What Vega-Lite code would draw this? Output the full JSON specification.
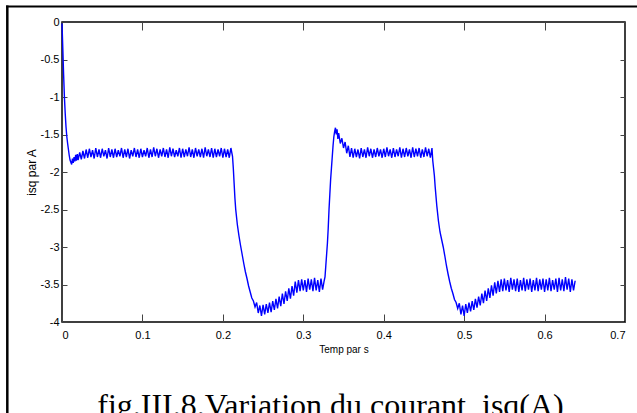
{
"$schema": "https://vega.github.io/schema/vega-lite/v6.json",
"width": 563,
"height": 300,
"autosize": {"type": "none"},
"padding": {"left": 62, "top": 22, "right": 12, "bottom": 91},
"background": "white",
"config": {
  "view": {"stroke": "black", "strokeWidth": 1.5},
  "locale": {"number": {"decimal": ".", "thousands": ",", "grouping": [3], "currency": ["$", ""], "minus": "-"}},
  "axis": {"domain": false, "grid": false, "labelColor": "black", "labelFont": "Liberation Sans", "labelFontSize": 11, "titleFont": "Liberation Sans", "titleFontWeight": "normal", "titleColor": "black", "tickColor": "#444444", "tickWidth": 1}
},
"title": {"text": "fig.III.8.Variation du courant\u00a0 isq(A)", "orient": "bottom", "font": "Liberation Serif", "fontSize": 32, "fontWeight": "normal", "color": "black", "anchor": "middle", "baseline": "alphabetic", "offset": -1, "dx": -13},
"datasets": {
"isq": [
{"t":0,"i":-0.02},{"t":0.001,"i":-0.35},{"t":0.002,"i":-0.7},{"t":0.003,"i":-1.0},{"t":0.004,"i":-1.22},{"t":0.005,"i":-1.4},{"t":0.006,"i":-1.53},{"t":0.007,"i":-1.62},{"t":0.008,"i":-1.7},{"t":0.009,"i":-1.78},{"t":0.010,"i":-1.84},{"t":0.011,"i":-1.87},{"t":0.012,"i":-1.9},{"t":0.013,"i":-1.82},{"t":0.014,"i":-1.88},{"t":0.015,"i":-1.8},{"t":0.016,"i":-1.86},{"t":0.017,"i":-1.77},{"t":0.018,"i":-1.85},{"t":0.019,"i":-1.76},{"t":0.020,"i":-1.84},{"t":0.022,"i":-1.74},{"t":0.024,"i":-1.83},{"t":0.026,"i":-1.72},{"t":0.028,"i":-1.82},
{"t":0.030,"i":-1.70},{"t":0.032,"i":-1.81},{"t":0.034,"i":-1.69},{"t":0.036,"i":-1.80},{"t":0.038,"i":-1.71},{"t":0.040,"i":-1.82},{"t":0.042,"i":-1.68},{"t":0.044,"i":-1.80},{"t":0.046,"i":-1.70},{"t":0.048,"i":-1.81},{"t":0.050,"i":-1.69},{"t":0.052,"i":-1.79},{"t":0.054,"i":-1.71},{"t":0.056,"i":-1.82},{"t":0.058,"i":-1.68},{"t":0.060,"i":-1.80},{"t":0.062,"i":-1.70},{"t":0.064,"i":-1.81},{"t":0.066,"i":-1.69},{"t":0.068,"i":-1.80},{"t":0.070,"i":-1.71},{"t":0.072,"i":-1.79},{"t":0.074,"i":-1.68},{"t":0.076,"i":-1.81},{"t":0.078,"i":-1.70},{"t":0.080,"i":-1.80},{"t":0.082,"i":-1.69},{"t":0.084,"i":-1.82},{"t":0.086,"i":-1.71},{"t":0.088,"i":-1.79},{"t":0.090,"i":-1.68},{"t":0.092,"i":-1.80},{"t":0.094,"i":-1.70},{"t":0.096,"i":-1.81},{"t":0.098,"i":-1.69},{"t":0.100,"i":-1.80},
{"t":0.102,"i":-1.71},{"t":0.104,"i":-1.79},{"t":0.106,"i":-1.68},{"t":0.108,"i":-1.81},{"t":0.110,"i":-1.70},{"t":0.112,"i":-1.80},{"t":0.114,"i":-1.67},{"t":0.116,"i":-1.79},{"t":0.118,"i":-1.69},{"t":0.120,"i":-1.81},{"t":0.122,"i":-1.70},{"t":0.124,"i":-1.79},{"t":0.126,"i":-1.68},{"t":0.128,"i":-1.80},{"t":0.130,"i":-1.70},{"t":0.132,"i":-1.81},{"t":0.134,"i":-1.67},{"t":0.136,"i":-1.79},{"t":0.138,"i":-1.69},{"t":0.140,"i":-1.80},{"t":0.142,"i":-1.71},{"t":0.144,"i":-1.79},{"t":0.146,"i":-1.68},{"t":0.148,"i":-1.81},{"t":0.150,"i":-1.69},{"t":0.152,"i":-1.80},{"t":0.154,"i":-1.70},{"t":0.156,"i":-1.79},{"t":0.158,"i":-1.67},{"t":0.160,"i":-1.80},{"t":0.162,"i":-1.70},{"t":0.164,"i":-1.81},{"t":0.166,"i":-1.68},{"t":0.168,"i":-1.79},{"t":0.170,"i":-1.70},{"t":0.172,"i":-1.80},{"t":0.174,"i":-1.69},{"t":0.176,"i":-1.81},{"t":0.178,"i":-1.67},{"t":0.180,"i":-1.79},{"t":0.182,"i":-1.70},{"t":0.184,"i":-1.80},{"t":0.186,"i":-1.68},{"t":0.188,"i":-1.81},{"t":0.190,"i":-1.69},{"t":0.192,"i":-1.80},{"t":0.194,"i":-1.70},{"t":0.196,"i":-1.79},{"t":0.198,"i":-1.68},{"t":0.200,"i":-1.81},{"t":0.202,"i":-1.69},{"t":0.204,"i":-1.80},{"t":0.206,"i":-1.70},{"t":0.208,"i":-1.81},{"t":0.210,"i":-1.68},{"t":0.212,"i":-1.79},
{"t":0.213,"i":-1.95},{"t":0.214,"i":-2.15},{"t":0.215,"i":-2.35},{"t":0.216,"i":-2.5},{"t":0.218,"i":-2.7},{"t":0.220,"i":-2.85},{"t":0.222,"i":-2.98},{"t":0.224,"i":-3.1},{"t":0.226,"i":-3.22},{"t":0.228,"i":-3.33},{"t":0.230,"i":-3.42},{"t":0.232,"i":-3.52},{"t":0.234,"i":-3.6},{"t":0.236,"i":-3.68},{"t":0.238,"i":-3.72},{"t":0.240,"i":-3.8},
{"t":0.242,"i":-3.74},{"t":0.244,"i":-3.88},{"t":0.246,"i":-3.78},{"t":0.248,"i":-3.92},{"t":0.250,"i":-3.77},{"t":0.252,"i":-3.9},{"t":0.254,"i":-3.76},{"t":0.256,"i":-3.88},{"t":0.258,"i":-3.74},{"t":0.260,"i":-3.87},{"t":0.262,"i":-3.72},{"t":0.264,"i":-3.84},{"t":0.266,"i":-3.69},{"t":0.268,"i":-3.82},{"t":0.270,"i":-3.66},{"t":0.272,"i":-3.79},{"t":0.274,"i":-3.62},{"t":0.276,"i":-3.76},{"t":0.278,"i":-3.59},{"t":0.280,"i":-3.72},{"t":0.282,"i":-3.55},{"t":0.284,"i":-3.69},{"t":0.286,"i":-3.52},{"t":0.288,"i":-3.65},{"t":0.290,"i":-3.46},{"t":0.292,"i":-3.61},{"t":0.294,"i":-3.44},{"t":0.296,"i":-3.59},{"t":0.298,"i":-3.43},{"t":0.300,"i":-3.58},{"t":0.302,"i":-3.44},{"t":0.304,"i":-3.60},{"t":0.306,"i":-3.42},{"t":0.308,"i":-3.57},{"t":0.310,"i":-3.43},{"t":0.312,"i":-3.59},{"t":0.314,"i":-3.41},{"t":0.316,"i":-3.58},{"t":0.318,"i":-3.44},{"t":0.320,"i":-3.60},{"t":0.322,"i":-3.42},{"t":0.324,"i":-3.57},{"t":0.326,"i":-3.45},
{"t":0.327,"i":-3.4},{"t":0.328,"i":-3.25},{"t":0.329,"i":-3.1},{"t":0.330,"i":-2.95},{"t":0.331,"i":-2.75},{"t":0.332,"i":-2.5},{"t":0.333,"i":-2.3},{"t":0.334,"i":-2.1},{"t":0.335,"i":-1.95},{"t":0.336,"i":-1.8},{"t":0.337,"i":-1.65},{"t":0.338,"i":-1.53},{"t":0.339,"i":-1.46},{"t":0.340,"i":-1.41},{"t":0.341,"i":-1.5},{"t":0.342,"i":-1.43},{"t":0.343,"i":-1.56},{"t":0.344,"i":-1.48},{"t":0.346,"i":-1.62},{"t":0.348,"i":-1.55},{"t":0.350,"i":-1.68},{"t":0.352,"i":-1.6},{"t":0.354,"i":-1.75},{"t":0.356,"i":-1.65},{"t":0.358,"i":-1.8},{"t":0.360,"i":-1.68},
{"t":0.362,"i":-1.81},{"t":0.364,"i":-1.69},{"t":0.366,"i":-1.80},{"t":0.368,"i":-1.70},{"t":0.370,"i":-1.82},{"t":0.372,"i":-1.68},{"t":0.374,"i":-1.80},{"t":0.376,"i":-1.70},{"t":0.378,"i":-1.81},{"t":0.380,"i":-1.67},{"t":0.382,"i":-1.79},{"t":0.384,"i":-1.69},{"t":0.386,"i":-1.81},{"t":0.388,"i":-1.70},{"t":0.390,"i":-1.80},{"t":0.392,"i":-1.68},{"t":0.394,"i":-1.79},{"t":0.396,"i":-1.70},{"t":0.398,"i":-1.81},{"t":0.400,"i":-1.69},{"t":0.402,"i":-1.80},{"t":0.404,"i":-1.67},{"t":0.406,"i":-1.79},{"t":0.408,"i":-1.70},{"t":0.410,"i":-1.81},{"t":0.412,"i":-1.68},{"t":0.414,"i":-1.80},{"t":0.416,"i":-1.70},{"t":0.418,"i":-1.79},{"t":0.420,"i":-1.67},{"t":0.422,"i":-1.81},{"t":0.424,"i":-1.69},{"t":0.426,"i":-1.80},{"t":0.428,"i":-1.68},{"t":0.430,"i":-1.79},{"t":0.432,"i":-1.70},{"t":0.434,"i":-1.81},{"t":0.436,"i":-1.67},{"t":0.438,"i":-1.80},{"t":0.440,"i":-1.69},{"t":0.442,"i":-1.79},{"t":0.444,"i":-1.68},{"t":0.446,"i":-1.81},{"t":0.448,"i":-1.70},{"t":0.450,"i":-1.80},{"t":0.452,"i":-1.67},{"t":0.454,"i":-1.79},{"t":0.456,"i":-1.69},{"t":0.458,"i":-1.81},{"t":0.460,"i":-1.68},
{"t":0.461,"i":-1.85},{"t":0.462,"i":-1.95},{"t":0.463,"i":-2.05},{"t":0.464,"i":-2.2},{"t":0.466,"i":-2.45},{"t":0.468,"i":-2.65},{"t":0.470,"i":-2.8},{"t":0.472,"i":-2.9},{"t":0.474,"i":-3.0},{"t":0.476,"i":-3.12},{"t":0.478,"i":-3.25},{"t":0.480,"i":-3.36},{"t":0.482,"i":-3.46},{"t":0.484,"i":-3.55},{"t":0.486,"i":-3.62},{"t":0.488,"i":-3.7},{"t":0.490,"i":-3.74},{"t":0.492,"i":-3.82},
{"t":0.494,"i":-3.75},{"t":0.496,"i":-3.9},{"t":0.498,"i":-3.78},{"t":0.500,"i":-3.92},{"t":0.502,"i":-3.76},{"t":0.504,"i":-3.88},{"t":0.506,"i":-3.74},{"t":0.508,"i":-3.86},{"t":0.510,"i":-3.72},{"t":0.512,"i":-3.84},{"t":0.514,"i":-3.69},{"t":0.516,"i":-3.81},{"t":0.518,"i":-3.66},{"t":0.520,"i":-3.78},{"t":0.522,"i":-3.62},{"t":0.524,"i":-3.75},{"t":0.526,"i":-3.58},{"t":0.528,"i":-3.72},{"t":0.530,"i":-3.55},{"t":0.532,"i":-3.68},{"t":0.534,"i":-3.51},{"t":0.536,"i":-3.65},{"t":0.538,"i":-3.47},{"t":0.540,"i":-3.62},{"t":0.542,"i":-3.45},{"t":0.544,"i":-3.6},{"t":0.546,"i":-3.43},{"t":0.548,"i":-3.59},
{"t":0.550,"i":-3.42},{"t":0.552,"i":-3.58},{"t":0.554,"i":-3.44},{"t":0.556,"i":-3.60},{"t":0.558,"i":-3.41},{"t":0.560,"i":-3.57},{"t":0.562,"i":-3.43},{"t":0.564,"i":-3.59},{"t":0.566,"i":-3.42},{"t":0.568,"i":-3.60},{"t":0.570,"i":-3.44},{"t":0.572,"i":-3.58},{"t":0.574,"i":-3.41},{"t":0.576,"i":-3.59},{"t":0.578,"i":-3.43},{"t":0.580,"i":-3.57},{"t":0.582,"i":-3.42},{"t":0.584,"i":-3.60},{"t":0.586,"i":-3.44},{"t":0.588,"i":-3.58},{"t":0.590,"i":-3.41},{"t":0.592,"i":-3.59},{"t":0.594,"i":-3.43},{"t":0.596,"i":-3.57},{"t":0.598,"i":-3.42},{"t":0.600,"i":-3.60},{"t":0.602,"i":-3.43},{"t":0.604,"i":-3.58},{"t":0.606,"i":-3.41},{"t":0.608,"i":-3.59},{"t":0.610,"i":-3.44},{"t":0.612,"i":-3.57},{"t":0.614,"i":-3.42},{"t":0.616,"i":-3.60},{"t":0.618,"i":-3.41},{"t":0.620,"i":-3.58},{"t":0.622,"i":-3.43},{"t":0.624,"i":-3.59},{"t":0.626,"i":-3.40},{"t":0.628,"i":-3.57},{"t":0.630,"i":-3.42},{"t":0.632,"i":-3.60},{"t":0.634,"i":-3.43},{"t":0.636,"i":-3.58},{"t":0.638,"i":-3.45}
]
},
"layer": [
  {
    "data": {"name": "isq"},
    "mark": {"type": "line", "color": "#0000ff", "strokeWidth": 1.4},
    "encoding": {
      "x": {"field": "t", "type": "quantitative", "scale": {"domain": [0, 0.7], "nice": false, "zero": false},
            "axis": {"orient": "bottom", "values": [0, 0.1, 0.2, 0.3, 0.4, 0.5, 0.6, 0.7], "format": "~g", "tickSize": -8, "labelPadding": 15, "title": "Temp par s", "titleFontSize": 10, "titlePadding": 4}},
      "y": {"field": "i", "type": "quantitative", "scale": {"domain": [-4, 0], "nice": false, "zero": false},
            "axis": {"orient": "left", "values": [0, -0.5, -1, -1.5, -2, -2.5, -3, -3.5, -4], "format": "~g", "tickSize": -5, "labelPadding": 8, "title": "isq par A", "titleFontSize": 12, "titlePadding": 2}}
    }
  },
  {
    "data": {"name": "isq"},
    "mark": {"type": "line", "opacity": 0},
    "encoding": {
      "x": {"field": "t", "type": "quantitative", "axis": {"orient": "top", "values": [0, 0.1, 0.2, 0.3, 0.4, 0.5, 0.6, 0.7], "labels": false, "title": null, "tickSize": -8}},
      "y": {"field": "i", "type": "quantitative", "axis": {"orient": "right", "values": [0, -0.5, -1, -1.5, -2, -2.5, -3, -3.5, -4], "labels": false, "title": null, "tickSize": -5}}
    }
  },
  {
    "data": {"values": [{"edge": "left"}]},
    "mark": {"type": "rule", "color": "black", "strokeWidth": 2.5},
    "encoding": {
      "x": {"datum": -0.068, "type": "quantitative", "axis": null},
      "y": {"datum": 0.22, "type": "quantitative", "axis": null},
      "y2": {"datum": -5.25}
    }
  },
  {
    "data": {"values": [{"edge": "top"}]},
    "mark": {"type": "rule", "color": "black", "strokeWidth": 2},
    "encoding": {
      "y": {"datum": 0.2067, "type": "quantitative", "axis": null},
      "x": {"datum": -0.0696, "type": "quantitative", "axis": null},
      "x2": {"datum": 0.73}
    }
  }
],
"resolve": {"axis": {"x": "independent", "y": "independent"}}
}
